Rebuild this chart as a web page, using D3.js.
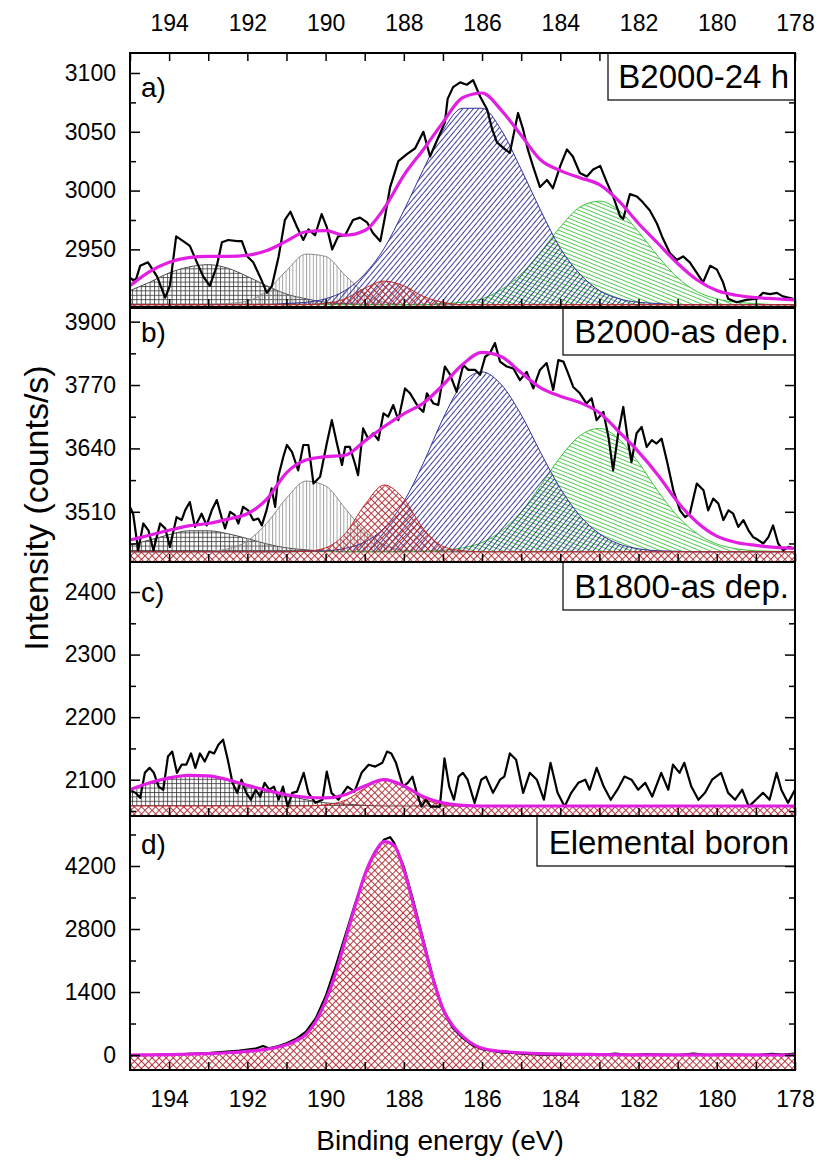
<!DOCTYPE html>
<html><head><meta charset="utf-8">
<script src="https://cdn.jsdelivr.net/npm/d3@7"></script>
<style>
body{margin:0;background:#fff}
text{font-family:"Liberation Sans",Arial,sans-serif;fill:#000}
.tick text{font-size:23px}
</style>
</head><body>
<svg id="chart" width="821" height="1164"></svg>
<script>
// ---------------- DATA ----------------
const xTickLabels = [194,192,190,188,186,184,182,180,178];
const xMinorTicks = [195,194,193,192,191,190,189,188,187,186,185,184,183,182,181,180,179,178];
const panelTags = ["a)","b)","c)","d)"];
const sampleNames = ["B2000-24 h","B2000-as dep.","B1800-as dep.","Elemental boron"];

const domainA=[2901,3117], domainB=[3407,3928], domainC=[2042,2448], domainD=[-333,5311];
const ticksA=[2950,3000,3050,3100], minorA=[2925,2975,3025,3075];
const ticksB=[3510,3640,3770,3900], minorB=[3445,3575,3705,3835];
const ticksC=[2100,2200,2300,2400], minorC=[2050,2150,2250,2350];
const ticksD=[0,1400,2800,4200], minorD=[700,2100,3500,4900];
const baseA=2903, baseB=3428, baseC=2058, baseD=0;

// fit-component grid (binding energy, eV)
const energyGrid=[195,194.5,194,193.5,193,192.5,192,191.5,191,190.5,190,189.5,189,188.5,188,187.5,187,186.5,186,185.5,185,184.5,184,183.5,183,182.5,182,181.5,181,180.5,180,179.5,179,178.5,178];

// panel a components
const gridA=[2915,2922,2930,2935,2937,2934,2927,2919,2912,2908,2905,2904,2903,2903,2903,2903,2903,2903,2903,2903,2903,2903,2903,2903,2903,2903,2903,2903,2903,2903,2903,2903,2903,2903,2903];
const vertA=[2903,2903,2903,2903,2903,2904,2906,2915,2932,2946,2944,2928,2913,2905,2903,2903,2903,2903,2903,2903,2903,2903,2903,2903,2903,2903,2903,2903,2903,2903,2903,2903,2903,2903,2903];
const redA=[2903,2903,2903,2903,2903,2903,2903,2903,2903,2903,2904,2908,2917,2923,2919,2910,2905,2903,2903,2903,2903,2903,2903,2903,2903,2903,2903,2903,2903,2903,2903,2903,2903,2903,2903];
const blueA=[2903,2903,2903,2903,2903,2903,2903,2903,2904,2905,2908,2915,2929,2951,2983,3018,3051,3070,3070,3051,3018,2983,2951,2929,2915,2908,2905,2904,2903,2903,2903,2903,2903,2903,2903];
const greenA=[2903,2903,2903,2903,2903,2903,2903,2903,2903,2903,2903,2903,2903,2903,2903,2903,2904,2905,2908,2916,2929,2948,2969,2986,2991,2983,2965,2944,2926,2914,2908,2905,2904,2903,2903];
const envA=[2919,2931,2939,2943,2944,2944,2945,2949,2957,2965,2966,2962,2966,2985,3013,3035,3058,3079,3083,3068,3047,3026,3017,3011,3005,2991,2972,2955,2938,2924,2915,2911,2909,2908,2907];

// panel b components
const gridB=[3442,3452,3463,3471,3471,3465,3455,3444,3436,3432,3429,3428,3428,3428,3428,3428,3428,3428,3428,3428,3428,3428,3428,3428,3428,3428,3428,3428,3428,3428,3428,3428,3428,3428,3428];
const vertB=[3428,3428,3428,3428,3429,3434,3450,3487,3538,3573,3563,3517,3470,3442,3431,3429,3428,3428,3428,3428,3428,3428,3428,3428,3428,3428,3428,3428,3428,3428,3428,3428,3428,3428,3428];
const redB=[3428,3428,3428,3428,3428,3428,3428,3428,3428,3429,3436,3465,3524,3565,3536,3475,3439,3430,3428,3428,3428,3428,3428,3428,3428,3428,3428,3428,3428,3428,3428,3428,3428,3428,3428];
const blueB=[3428,3428,3428,3428,3428,3428,3428,3428,3428,3429,3430,3435,3448,3477,3531,3610,3701,3773,3797,3770,3709,3631,3558,3502,3465,3444,3434,3430,3429,3428,3428,3428,3428,3428,3428];
const greenB=[3428,3428,3428,3428,3428,3428,3428,3428,3428,3428,3428,3428,3428,3428,3428,3429,3431,3436,3447,3471,3510,3564,3622,3666,3681,3659,3611,3552,3501,3465,3444,3434,3430,3429,3428];
const envB=[3452,3462,3472,3481,3486,3495,3506,3536,3590,3616,3623,3626,3655,3685,3711,3733,3770,3812,3837,3828,3795,3764,3747,3734,3713,3674,3633,3585,3530,3488,3460,3447,3441,3437,3435];

// panel c components
const gridC=[2085,2094,2102,2106,2105,2100,2092,2083,2075,2068,2063,2061,2059,2058,2058,2058,2058,2058,2058,2058,2058,2058,2058,2058,2058,2058,2058,2058,2058,2058,2058,2058,2058,2058,2058];
const redC=[2058,2058,2058,2058,2058,2058,2058,2058,2058,2058,2060,2067,2086,2101,2091,2070,2060,2058,2058,2058,2058,2058,2058,2058,2058,2058,2058,2058,2058,2058,2058,2058,2058,2058,2058];
const envC=[2084,2095,2103,2107,2106,2100,2091,2083,2076,2072,2071,2076,2090,2100,2090,2073,2063,2059,2058,2058,2058,2058,2058,2058,2058,2058,2058,2058,2058,2058,2058,2058,2058,2058,2058];

// panel d (single component = envelope)
const energyGridD=[195,194.5,194,193.5,193,192.5,192,191.5,191,190.75,190.5,190.25,190,189.75,189.5,189.25,189,188.75,188.5,188.25,188,187.75,187.5,187.25,187,186.75,186.5,186.25,186,185.5,185,184.5,184,183.5,183,182,181,180,179,178];
const envD=[0,5,10,18,30,50,80,130,230,320,460,750,1200,1800,2550,3300,4000,4480,4740,4660,4120,3330,2500,1680,1030,650,420,250,150,80,50,30,20,15,10,5,3,2,1,0];

// measured spectra [eV, counts/s]
const rawA=[[195,2926],[194.87,2922],[194.74,2936],[194.54,2939],[194.31,2927],[194.1,2909],[193.98,2919],[193.82,2961],[193.64,2957],[193.47,2953],[193.29,2939],[193.13,2927],[192.96,2919],[192.78,2936],[192.65,2956],[192.49,2958],[192.26,2957],[192.14,2957],[192,2944],[191.85,2939],[191.68,2927],[191.5,2913],[191.37,2919],[191.2,2944],[191.04,2975],[190.9,2982],[190.73,2969],[190.57,2958],[190.44,2967],[190.27,2962],[190.1,2980],[189.97,2969],[189.83,2950],[189.68,2961],[189.5,2962],[189.3,2975],[189.12,2977],[188.94,2973],[188.79,2964],[188.6,2957],[188.48,2978],[188.35,3003],[188.14,3025],[187.92,3031],[187.71,3036],[187.5,3050],[187.33,3029],[187.2,3039],[186.95,3058],[186.88,3078],[186.74,3088],[186.56,3092],[186.39,3090],[186.23,3094],[186.05,3080],[185.87,3069],[185.74,3052],[185.62,3041],[185.41,3035],[185.29,3032],[185.08,3066],[184.95,3052],[184.83,3035],[184.7,3021],[184.52,3003],[184.34,3009],[184.19,3002],[184,3021],[183.83,3035],[183.68,3029],[183.5,3015],[183.32,3012],[183.16,3018],[182.98,3021],[182.81,3007],[182.65,2995],[182.47,2978],[182.39,2976],[182.22,2997],[182.04,2995],[181.89,2990],[181.71,2983],[181.53,2972],[181.4,2961],[181.2,2947],[181.02,2941],[180.86,2944],[180.69,2939],[180.51,2930],[180.35,2922],[180.17,2936],[180,2933],[179.84,2922],[179.71,2908],[179.49,2905],[179.24,2907],[178.97,2908],[178.82,2913],[178.64,2912],[178.46,2913],[178.31,2910],[178.05,2908]];
const rawB=[[195,3520],[194.92,3506],[194.79,3431],[194.66,3486],[194.53,3472],[194.4,3431],[194.23,3486],[194.1,3476],[193.98,3438],[193.81,3499],[193.68,3493],[193.59,3513],[193.47,3530],[193.34,3479],[193.17,3506],[193.04,3482],[192.91,3513],[192.78,3534],[192.66,3499],[192.57,3476],[192.44,3510],[192.32,3503],[192.23,3486],[192.11,3520],[191.98,3513],[191.85,3493],[191.72,3496],[191.63,3482],[191.51,3513],[191.38,3558],[191.29,3520],[191.21,3582],[191.08,3623],[190.99,3647],[190.86,3633],[190.7,3595],[190.57,3647],[190.44,3647],[190.31,3568],[190.14,3582],[189.97,3650],[189.84,3698],[189.71,3650],[189.58,3606],[189.5,3643],[189.38,3643],[189.25,3609],[189.17,3585],[189.04,3681],[188.91,3660],[188.78,3671],[188.65,3657],[188.52,3712],[188.4,3705],[188.27,3729],[188.14,3698],[187.97,3763],[187.84,3753],[187.63,3725],[187.5,3715],[187.41,3753],[187.24,3732],[187.12,3729],[186.95,3808],[186.82,3792],[186.65,3756],[186.48,3811],[186.35,3801],[186.18,3801],[186.05,3791],[185.92,3828],[185.8,3835],[185.67,3856],[185.54,3818],[185.37,3808],[185.2,3804],[185.03,3780],[184.86,3797],[184.69,3763],[184.52,3801],[184.35,3815],[184.18,3760],[184.05,3821],[183.92,3818],[183.8,3794],[183.67,3766],[183.5,3753],[183.33,3732],[183.2,3743],[183.07,3698],[182.9,3715],[182.77,3664],[182.65,3595],[182.52,3671],[182.39,3725],[182.26,3650],[182.18,3612],[182.05,3671],[181.92,3684],[181.79,3643],[181.66,3657],[181.54,3650],[181.41,3660],[181.28,3616],[181.11,3554],[180.94,3513],[180.81,3499],[180.69,3506],[180.51,3568],[180.34,3554],[180.22,3513],[180.09,3537],[179.96,3527],[179.83,3493],[179.7,3513],[179.58,3506],[179.45,3479],[179.32,3493],[179.19,3472],[179.07,3458],[178.94,3452],[178.81,3445],[178.68,3458],[178.56,3482],[178.43,3445],[178.3,3431],[178.17,3438],[178.04,3435]];
const rawC=[[195,2084],[194.86,2079],[194.74,2071],[194.62,2111],[194.5,2119],[194.39,2111],[194.27,2089],[194.15,2084],[194.03,2137],[193.92,2145],[193.8,2111],[193.68,2124],[193.56,2124],[193.44,2142],[193.33,2119],[193.21,2142],[193.09,2129],[192.97,2145],[192.85,2142],[192.74,2156],[192.62,2164],[192.5,2132],[192.38,2095],[192.26,2079],[192.15,2100],[192.03,2079],[191.91,2068],[191.79,2084],[191.67,2073],[191.56,2095],[191.44,2084],[191.32,2089],[191.2,2068],[191.09,2089],[190.97,2057],[190.85,2079],[190.73,2081],[190.56,2111],[190.44,2079],[190.26,2063],[190.08,2068],[189.97,2113],[189.85,2079],[189.67,2068],[189.44,2089],[189.26,2081],[189.08,2111],[188.9,2124],[188.73,2121],[188.55,2127],[188.43,2145],[188.32,2142],[188.2,2127],[188.02,2089],[187.9,2095],[187.78,2105],[187.67,2079],[187.55,2057],[187.43,2068],[187.31,2057],[187.08,2057],[186.96,2134],[186.84,2089],[186.72,2068],[186.6,2105],[186.49,2111],[186.37,2100],[186.19,2063],[186.02,2100],[185.9,2105],[185.72,2079],[185.54,2100],[185.43,2105],[185.29,2142],[185.13,2132],[184.95,2079],[184.78,2111],[184.6,2100],[184.42,2068],[184.25,2127],[184.07,2079],[183.89,2057],[183.72,2079],[183.54,2095],[183.36,2100],[183.25,2084],[183.07,2119],[182.89,2089],[182.71,2068],[182.54,2084],[182.36,2105],[182.18,2100],[182.01,2084],[181.83,2095],[181.65,2073],[181.42,2111],[181.24,2084],[181.12,2124],[180.95,2111],[180.83,2127],[180.65,2089],[180.47,2068],[180.3,2079],[180.12,2100],[179.89,2111],[179.71,2079],[179.53,2068],[179.35,2084],[179.18,2057],[179,2068],[178.82,2079],[178.65,2068],[178.47,2111],[178.35,2084],[178.18,2063],[178,2084]];
const rawD=[[195,-10],[194.5,0],[194,10],[193.5,25],[193,40],[192.6,70],[192.2,100],[191.8,140],[191.6,200],[191.45,150],[191.2,200],[191,260],[190.75,360],[190.5,520],[190.25,820],[190,1300],[189.75,1950],[189.5,2650],[189.25,3350],[189,4000],[188.75,4500],[188.5,4790],[188.35,4840],[188.25,4720],[188,4180],[187.75,3400],[187.5,2550],[187.25,1700],[187,1000],[186.75,600],[186.5,380],[186.25,220],[186,130],[185.5,60],[185,30],[184.5,10],[184,0],[183.5,20],[183,0],[182.6,30],[182.2,0],[181.8,20],[181,0],[180.6,30],[180.2,0],[179.8,15],[179,0],[178.6,25],[178.3,10],[178,30]];

// ---------------- LAYOUT / STYLE ----------------
const L=130, R=795, PH=254;
const tops=[53,308,562,816];
const tagDy=[44,34,40,38];
const boxLeft=[608,563,563,537], boxH=[47,47,48,50];
const style={
  grid:{fill:"url(#p-grid)",stroke:"#4a4a4a"},
  vert:{fill:"url(#p-vert)",stroke:"#8c8c8c"},
  red:{fill:"url(#p-red)",stroke:"#c02828"},
  blue:{fill:"url(#p-blue)",stroke:"#30309c"},
  green:{fill:"url(#p-green)",stroke:"#3cc43c"}
};

const panels=[
 {domain:domainA,ticks:ticksA,minor:minorA,base:baseA,env:[energyGrid,envA],raw:rawA,
  comps:[["grid",energyGrid,gridA],["vert",energyGrid,vertA],["green",energyGrid,greenA],["blue",energyGrid,blueA],["red",energyGrid,redA]]},
 {domain:domainB,ticks:ticksB,minor:minorB,base:baseB,env:[energyGrid,envB],raw:rawB,
  comps:[["grid",energyGrid,gridB],["vert",energyGrid,vertB],["green",energyGrid,greenB],["blue",energyGrid,blueB],["red",energyGrid,redB]]},
 {domain:domainC,ticks:ticksC,minor:minorC,base:baseC,env:[energyGrid,envC],raw:rawC,
  comps:[["grid",energyGrid,gridC],["red",energyGrid,redC]]},
 {domain:domainD,ticks:ticksD,minor:minorD,base:baseD,env:[energyGridD,envD],raw:rawD,
  comps:[["red",energyGridD,envD]]}
];

const svg=d3.select("#chart");
const defs=svg.append("defs");
function pat(id,w,h,d,color,rot,sw){
  const p=defs.append("pattern").attr("id",id).attr("patternUnits","userSpaceOnUse")
    .attr("width",w).attr("height",h);
  if(rot) p.attr("patternTransform",`rotate(${rot})`);
  p.append("path").attr("d",d).attr("stroke",color).attr("stroke-width",sw).attr("fill","none");
}
pat("p-grid",4.4,4.4,"M0,0.5H4.4M0.5,0V4.4","#333",0,0.8);
pat("p-vert",3.4,4,"M0.5,0V4","#858585",0,0.8);
pat("p-red",5,5,"M0,0.5H5M0.5,0V5","#b3222a",45,0.9);
pat("p-blue",4,10,"M0.5,0V10","#2a2a96",40,0.9);
pat("p-green",10,3.7,"M0,0.5H10","#33bf33",22,0.85);

const x=d3.scaleLinear().domain([195,178]).range([L,R]);

function styleAxis(sel){
  sel.attr("font-size",23).attr("font-family","'Liberation Sans',Arial,sans-serif");
  sel.select(".domain").remove();
  sel.selectAll(".tick line").attr("stroke","#000").attr("stroke-width",1.5);
  sel.selectAll(".tick text").attr("fill","#000").style("font-size","23px");
}

panels.forEach((p,i)=>{
  const top=tops[i], bot=top+PH;
  const y=d3.scaleLinear().domain(p.domain).range([bot,top]);
  const g=svg.append("g");
  const cid="clip"+i;
  defs.append("clipPath").attr("id",cid).append("rect")
    .attr("x",L).attr("y",top).attr("width",R-L).attr("height",PH);
  const pg=g.append("g").attr("clip-path",`url(#${cid})`);

  p.comps.forEach(([kind,E,V])=>{
    const pts=E.map((e,k)=>[e,V[k]]);
    const y0=kind==="red"?bot:y(p.base);
    const area=d3.area().x(d=>x(d[0])).y0(y0).y1(d=>y(d[1])).curve(d3.curveMonotoneX);
    const line=d3.line().x(d=>x(d[0])).y(d=>y(d[1])).curve(d3.curveMonotoneX);
    pg.append("path").attr("d",area(pts)).attr("fill",style[kind].fill).attr("stroke","none");
    pg.append("path").attr("d",line(pts)).attr("fill","none").attr("stroke",style[kind].stroke).attr("stroke-width",1);
  });

  pg.append("path").attr("d",d3.line().x(d=>x(d[0])).y(d=>y(d[1]))(p.raw))
    .attr("fill","none").attr("stroke","#000").attr("stroke-width",2.2).attr("stroke-linejoin","round");

  const envPts=p.env[0].map((e,k)=>[e,p.env[1][k]]);
  pg.append("path").attr("d",d3.line().x(d=>x(d[0])).y(d=>y(d[1])).curve(d3.curveMonotoneX)(envPts))
    .attr("fill","none").attr("stroke","#e11ee1").attr("stroke-width",3.2);

  // axes
  g.append("g").attr("transform",`translate(${L},0)`)
    .call(d3.axisLeft(y).tickValues(p.ticks).tickSize(-10).tickPadding(14).tickFormat(d3.format("d"))).call(styleAxis);
  g.append("g").attr("transform",`translate(${L},0)`)
    .call(d3.axisLeft(y).tickValues(p.minor).tickSize(-6).tickFormat("")).call(styleAxis);
  g.append("g").attr("transform",`translate(${R},0)`)
    .call(d3.axisRight(y).tickValues(p.ticks).tickSize(-10).tickFormat("")).call(styleAxis);
  g.append("g").attr("transform",`translate(${R},0)`)
    .call(d3.axisRight(y).tickValues(p.minor).tickSize(-6).tickFormat("")).call(styleAxis);
  g.append("g").attr("transform",`translate(0,${bot})`)
    .call(d3.axisBottom(x).tickValues(xMinorTicks).tickSize(-8).tickFormat("")).call(styleAxis);
  if(i===0){
    g.append("g").attr("transform",`translate(0,${top})`)
      .call(d3.axisTop(x).tickValues(xMinorTicks).tickSize(-8).tickFormat("")).call(styleAxis);
    g.append("g").attr("transform",`translate(0,${top})`)
      .call(d3.axisTop(x).tickValues(xTickLabels).tickSize(0).tickPadding(22).tickFormat(d3.format("d"))).call(styleAxis);
  }
  if(i===3){
    g.append("g").attr("transform",`translate(0,${bot})`)
      .call(d3.axisBottom(x).tickValues(xTickLabels).tickSize(0).tickPadding(21).tickFormat(d3.format("d"))).call(styleAxis);
  }

  // panel tag
  g.append("text").attr("x",L+11).attr("y",top+tagDy[i]).style("font-size","28px").text(panelTags[i]);
  // sample box
  g.append("rect").attr("x",boxLeft[i]).attr("y",top).attr("width",R-boxLeft[i]).attr("height",boxH[i])
    .attr("fill","#fff").attr("stroke","#000").attr("stroke-width",1.2);
  g.append("text").attr("x",R-6).attr("y",top+boxH[i]-12).attr("text-anchor","end")
    .style("font-size","33px").text(sampleNames[i]);
  // frame
  g.append("rect").attr("x",L).attr("y",top).attr("width",R-L).attr("height",PH)
    .attr("fill","none").attr("stroke","#000").attr("stroke-width",2);
});

svg.append("text").attr("transform","translate(36,508) rotate(-90)").attr("text-anchor","middle")
  .attr("dominant-baseline","central").style("font-size","34px").text("Intensity (counts/s)");
svg.append("text").attr("x",440).attr("y",1150).attr("text-anchor","middle")
  .style("font-size","28px").text("Binding energy (eV)");
</script>
</body></html>
